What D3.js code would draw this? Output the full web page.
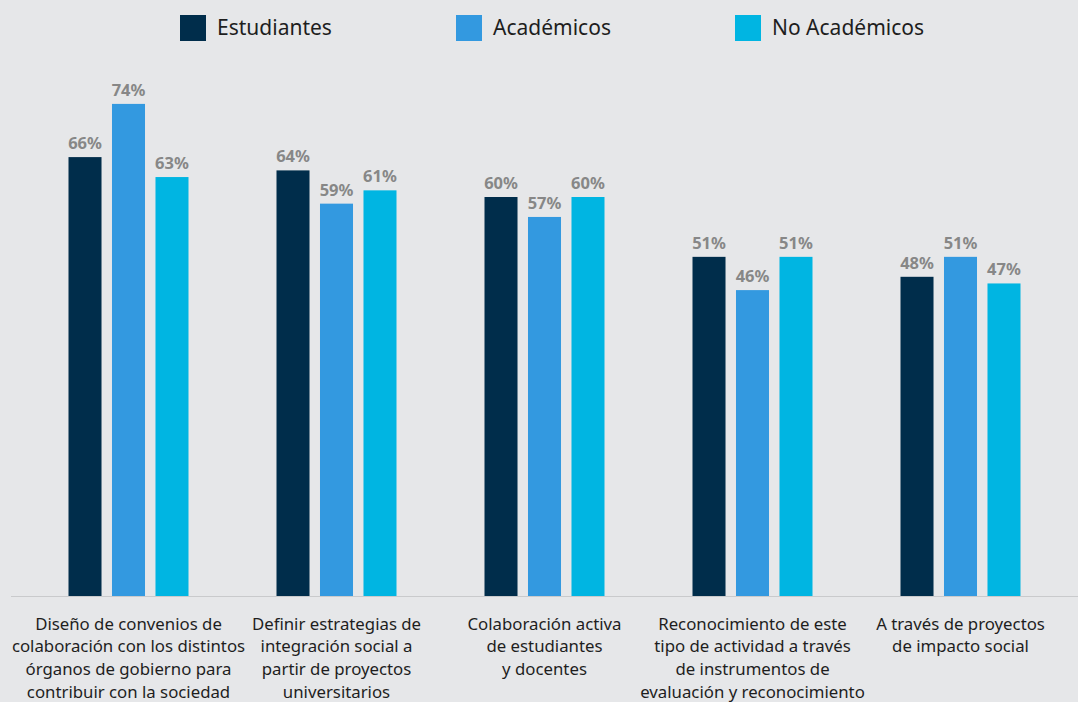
<!DOCTYPE html>
<html>
<head>
<meta charset="utf-8">
<script src="https://cdn.jsdelivr.net/npm/d3@7"></script>
<style>
  html, body { margin: 0; padding: 0; background: #e6e7e9; }
  svg { display: block; font-family: "Noto Sans", "Open Sans", sans-serif; }
</style>
</head>
<body>
<svg id="chart" width="1078" height="702"></svg>
<script>
// Categories (line breaks mark how each label wraps)
const categories = [
  "Diseño de convenios de\ncolaboración con los distintos\nórganos de gobierno para\ncontribuir con la sociedad",
  "Definir estrategias de\nintegración social a\npartir de proyectos\nuniversitarios",
  "Colaboración activa\nde estudiantes\ny docentes",
  "Reconocimiento de este\ntipo de actividad a través\nde instrumentos de\nevaluación y reconocimiento",
  "A través de proyectos\nde impacto social"
];
const seriesNames = ["Estudiantes", "Académicos", "No Académicos"];
const estudiantes = [66, 64, 60, 51, 48];
const academicos = [74, 59, 57, 46, 51];
const noAcademicos = [63, 61, 60, 51, 47];
const seriesValues = [estudiantes, academicos, noAcademicos];
const seriesColors = ["#002d4b", "#3399e0", "#00b5e2"];

const svg = d3.select("#chart");
const W = 1078, H = 702;
const baseY = 596;

// Group centres across the width, bars inside each group
const x0 = d3.scalePoint().domain(d3.range(categories.length)).range([128.5, 960.5]);
const groupW = 120;
const x1 = d3.scaleBand().domain(d3.range(seriesNames.length))
  .range([-groupW / 2, groupW / 2]).paddingInner(0.241).paddingOuter(0);
const y = d3.scaleLinear().domain([0, 100]).range([baseY, baseY - 665]);

// Legend
const legendX = [180, 456, 735];
const legend = svg.append("g");
seriesNames.forEach((name, i) => {
  const g = legend.append("g").attr("transform", `translate(${legendX[i]},15)`);
  g.append("rect").attr("width", 26).attr("height", 26).attr("fill", seriesColors[i]);
  g.append("text").attr("x", 37).attr("y", 20)
    .attr("font-size", 21).attr("fill", "#1e1e1e").text(name);
});

// Baseline
svg.append("line")
  .attr("x1", 11).attr("x2", W).attr("y1", baseY + 0.5).attr("y2", baseY + 0.5)
  .attr("stroke", "#c9cacc").attr("stroke-width", 1);

// Bars and value labels
const groups = svg.append("g").selectAll("g")
  .data(categories.map((c, i) => i))
  .join("g")
  .attr("transform", i => `translate(${x0(i)},0)`);

groups.each(function (ci) {
  const g = d3.select(this);
  seriesValues.forEach((vals, si) => {
    const v = vals[ci];
    g.append("rect")
      .attr("x", x1(si)).attr("width", x1.bandwidth())
      .attr("y", y(v)).attr("height", baseY - y(v))
      .attr("fill", seriesColors[si]);
    g.append("text")
      .attr("x", x1(si) + x1.bandwidth() / 2)
      .attr("y", y(v) - 8)
      .attr("text-anchor", "middle")
      .attr("font-size", 16.5).attr("font-weight", 700)
      .attr("fill", "#878787")
      .text(v + "%");
  });
});

// Category labels below the baseline
const labels = svg.append("g").selectAll("text")
  .data(categories)
  .join("text")
  .attr("text-anchor", "middle")
  .attr("font-size", 16.8)
  .attr("fill", "#1e1e1e")
  .attr("transform", (d, i) => `translate(${x0(i)},629.5)`);
labels.each(function (d) {
  d3.select(this).selectAll("tspan")
    .data(d.split("\n"))
    .join("tspan")
    .attr("x", 0)
    .attr("y", (l, j) => j * 22.75)
    .text(l => l);
});
</script>
</body>
</html>
